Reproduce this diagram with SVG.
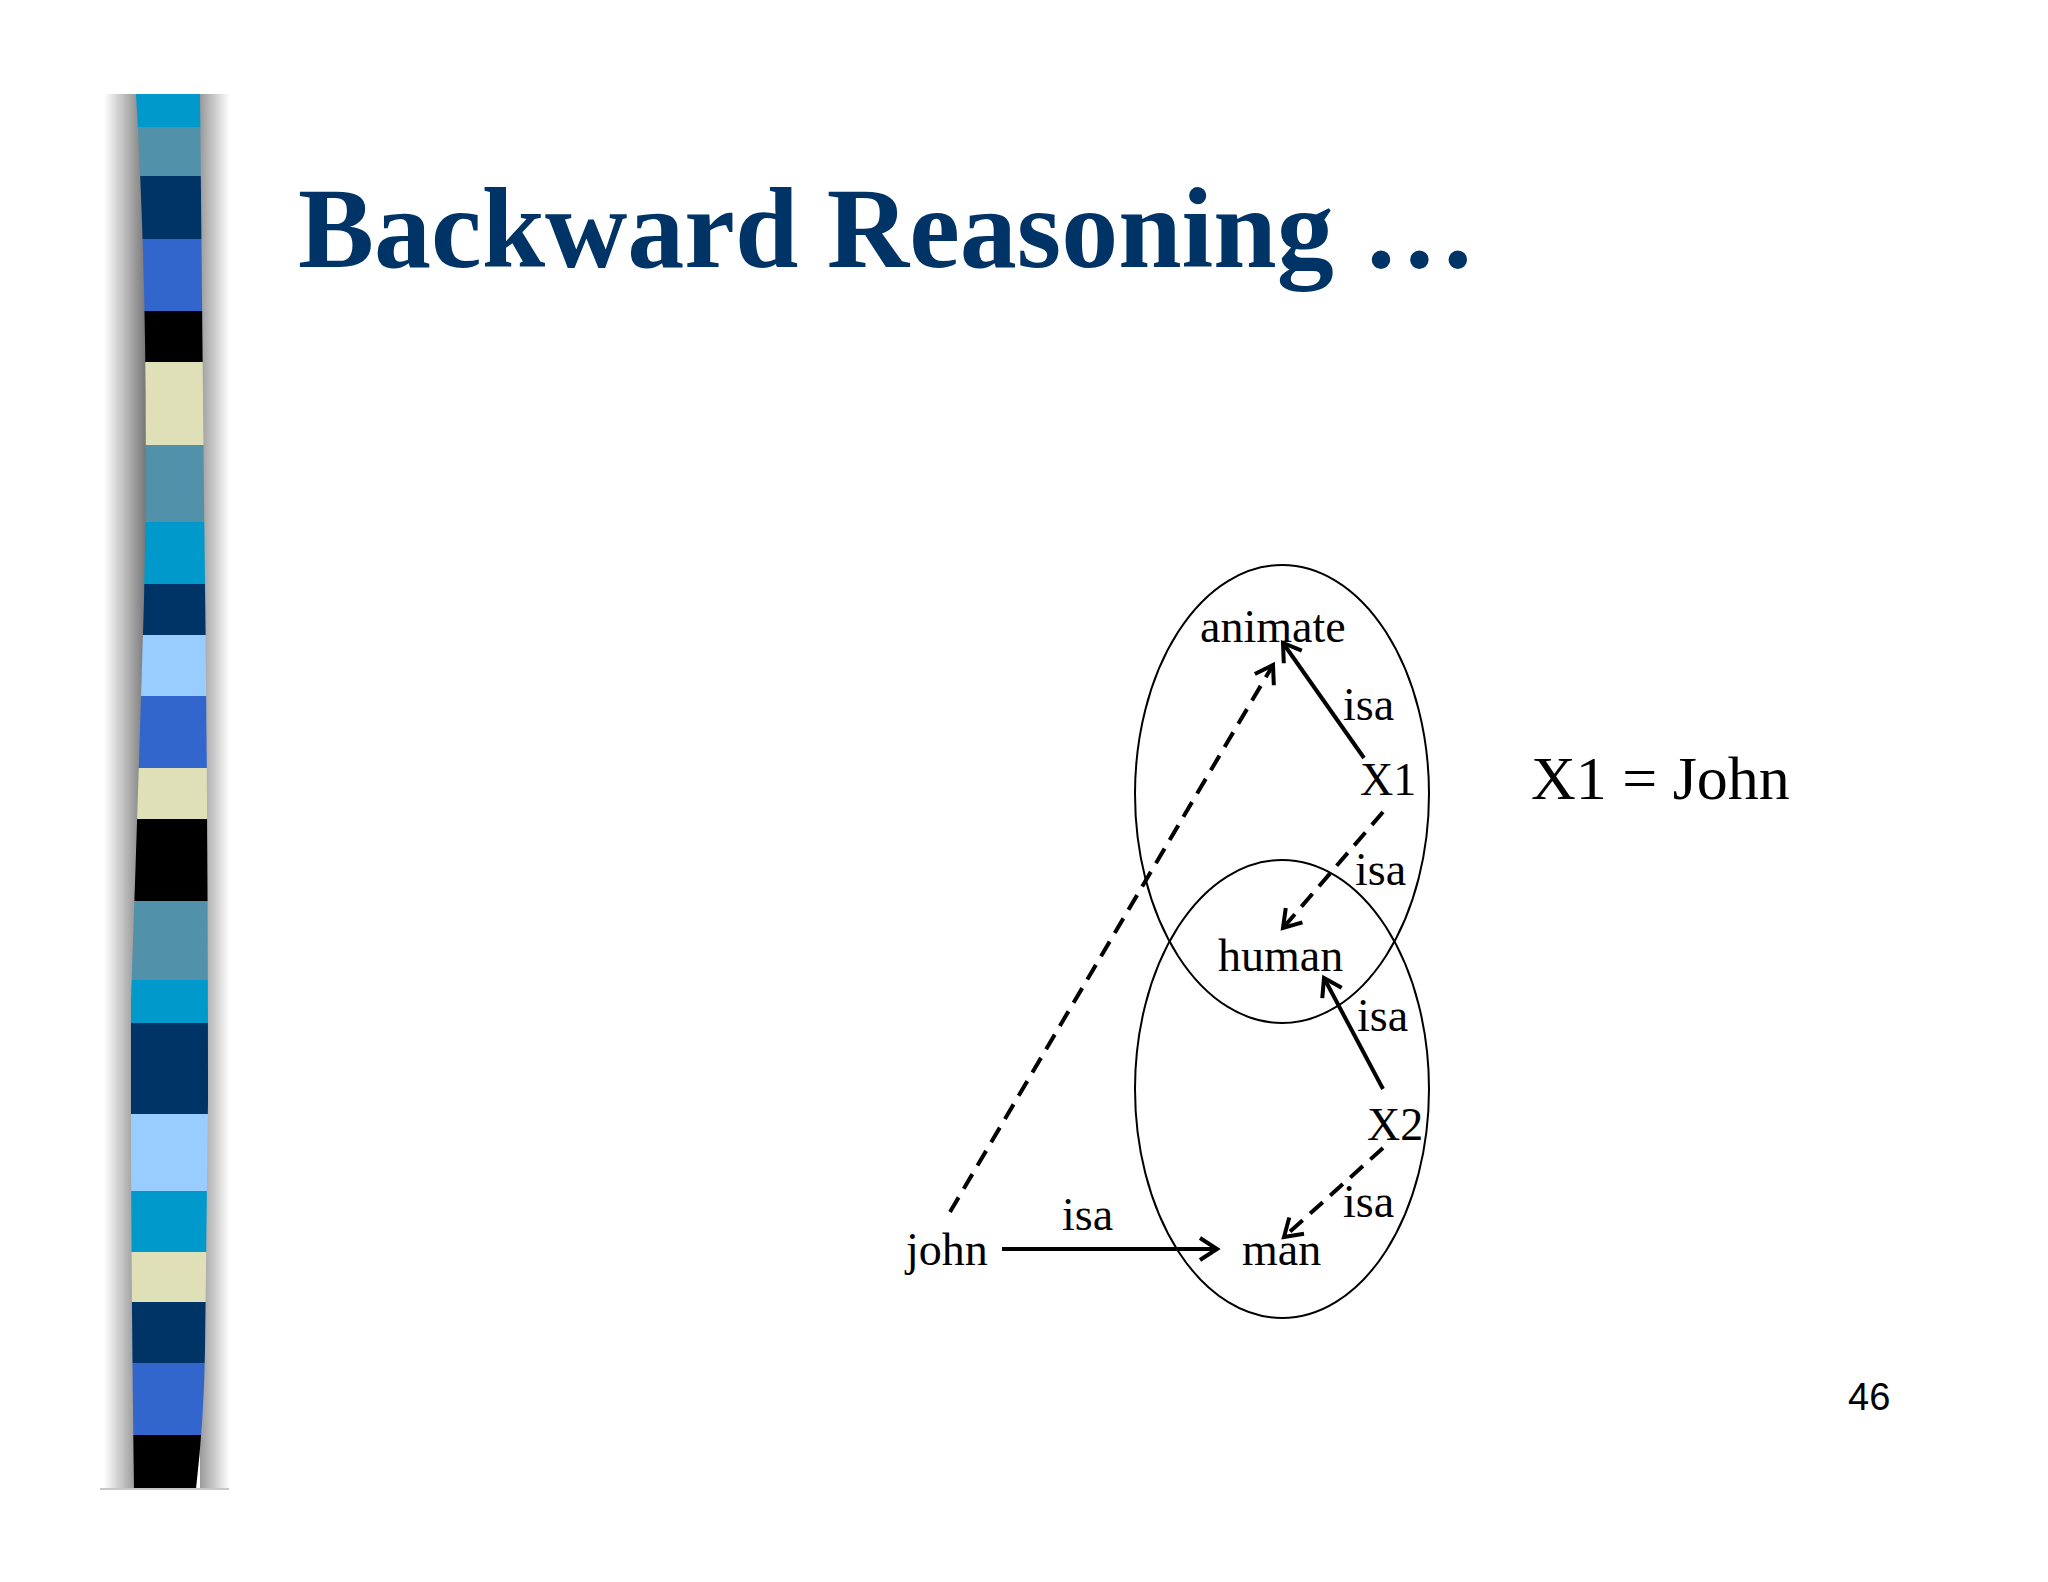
<svg xmlns="http://www.w3.org/2000/svg" width="2048" height="1582" viewBox="0 0 2048 1582">
<defs>
<style>
.lbl{font-family:"Liberation Serif","Times New Roman",serif;font-size:46px;fill:#000}
.ell{fill:none;stroke:#000;stroke-width:2}
.edge{fill:none;stroke:#000;stroke-width:4}
.dash{stroke-dasharray:17 10}
</style>
<marker id="arr" markerUnits="userSpaceOnUse" viewBox="-22 -14 26 28" markerWidth="26" markerHeight="28" refX="0" refY="0" orient="auto">
<path d="M-17,-11 L0,0 L-17,11" fill="none" stroke="#000" stroke-width="4" stroke-dasharray="none"/>
</marker>
<linearGradient id="shL" x1="0" y1="0" x2="1" y2="0">
<stop offset="0" stop-color="#ffffff"/>
<stop offset="1" stop-color="#767676"/>
</linearGradient>
<linearGradient id="shR" x1="0" y1="0" x2="1" y2="0">
<stop offset="0" stop-color="#9a9a9a"/>
<stop offset="1" stop-color="#ffffff"/>
</linearGradient>
<clipPath id="barClip">
<path d="M136,94 Q150,330 144,600 Q138,800 131,1000 L131,1150 Q132,1350 134,1489 L196,1489 Q204,1420 205,1350 L208,1100 Q208,800 204,500 L200,94 Z"/>
</clipPath>
</defs>
<rect width="2048" height="1582" fill="#ffffff"/>
<g id="sidebar">
<rect x="104" y="94" width="42" height="1395" fill="url(#shL)"/>
<rect x="200" y="94" width="30" height="1395" fill="url(#shR)"/>
<g clip-path="url(#barClip)">
<rect x="120" y="94" width="100" height="33" fill="#0099cc"/>
<rect x="120" y="127" width="100" height="49" fill="#5191aa"/>
<rect x="120" y="176" width="100" height="63" fill="#003366"/>
<rect x="120" y="239" width="100" height="72" fill="#3366cc"/>
<rect x="120" y="311" width="100" height="51" fill="#000000"/>
<rect x="120" y="362" width="100" height="83" fill="#e0e0b8"/>
<rect x="120" y="445" width="100" height="77" fill="#5191aa"/>
<rect x="120" y="522" width="100" height="62" fill="#0099cc"/>
<rect x="120" y="584" width="100" height="51" fill="#003366"/>
<rect x="120" y="635" width="100" height="61" fill="#99ccff"/>
<rect x="120" y="696" width="100" height="72" fill="#3366cc"/>
<rect x="120" y="768" width="100" height="51" fill="#e0e0b8"/>
<rect x="120" y="819" width="100" height="82" fill="#000000"/>
<rect x="120" y="901" width="100" height="79" fill="#5191aa"/>
<rect x="120" y="980" width="100" height="43" fill="#0099cc"/>
<rect x="120" y="1023" width="100" height="91" fill="#003366"/>
<rect x="120" y="1114" width="100" height="77" fill="#99ccff"/>
<rect x="120" y="1191" width="100" height="61" fill="#0099cc"/>
<rect x="120" y="1252" width="100" height="50" fill="#e0e0b8"/>
<rect x="120" y="1302" width="100" height="61" fill="#003366"/>
<rect x="120" y="1363" width="100" height="72" fill="#3366cc"/>
<rect x="120" y="1435" width="100" height="54" fill="#000000"/>
</g>
<line x1="100" y1="1489" x2="229" y2="1489" stroke="#c8c8c8" stroke-width="2"/>
</g>
<g id="title">
<text x="298" y="267" font-family="'Liberation Serif','Times New Roman',serif" font-weight="bold" font-size="114" fill="#003366">Backward Reasoning …</text>
</g>
<g id="sets">
<ellipse id="set-animate" class="ell" cx="1282" cy="794" rx="147" ry="229"/>
<ellipse id="set-man" class="ell" cx="1282" cy="1089" rx="147" ry="229"/>
</g>
<g id="connectors">
<path class="edge" d="M1364,758 L1283,643" marker-end="url(#arr)"/>
<path class="edge dash" d="M1383,812 L1283,928" marker-end="url(#arr)"/>
<path class="edge dash" d="M950,1212 L1273,665" marker-end="url(#arr)"/>
<path class="edge" d="M1383,1089 L1324,978" marker-end="url(#arr)"/>
<path class="edge dash" d="M1383,1148 L1284,1237" marker-end="url(#arr)"/>
<path class="edge" d="M1002,1249 L1217,1249" marker-end="url(#arr)"/>
<text class="lbl" x="1343" y="720">isa</text>
<text class="lbl" x="1355" y="885">isa</text>
<text class="lbl" x="1357" y="1031">isa</text>
<text class="lbl" x="1343" y="1217">isa</text>
<text class="lbl" x="1062" y="1230">isa</text>
</g>
<g id="node-animate"><text class="lbl" x="1200" y="642">animate</text></g>
<g id="node-X1"><text class="lbl" x="1360" y="795">X1</text></g>
<g id="node-human"><text class="lbl" x="1218" y="971">human</text></g>
<g id="node-X2"><text class="lbl" x="1367" y="1140">X2</text></g>
<g id="node-man"><text class="lbl" x="1242" y="1265">man</text></g>
<g id="node-john"><text class="lbl" x="906" y="1265">john</text></g>
<g id="binding"><text x="1531" y="799" font-family="'Liberation Serif','Times New Roman',serif" font-size="62" fill="#000">X1 = John</text></g>
<g id="page-number"><text x="1848" y="1410" font-family="'Liberation Sans',Arial,sans-serif" font-size="38" fill="#000">46</text></g>
</svg>
